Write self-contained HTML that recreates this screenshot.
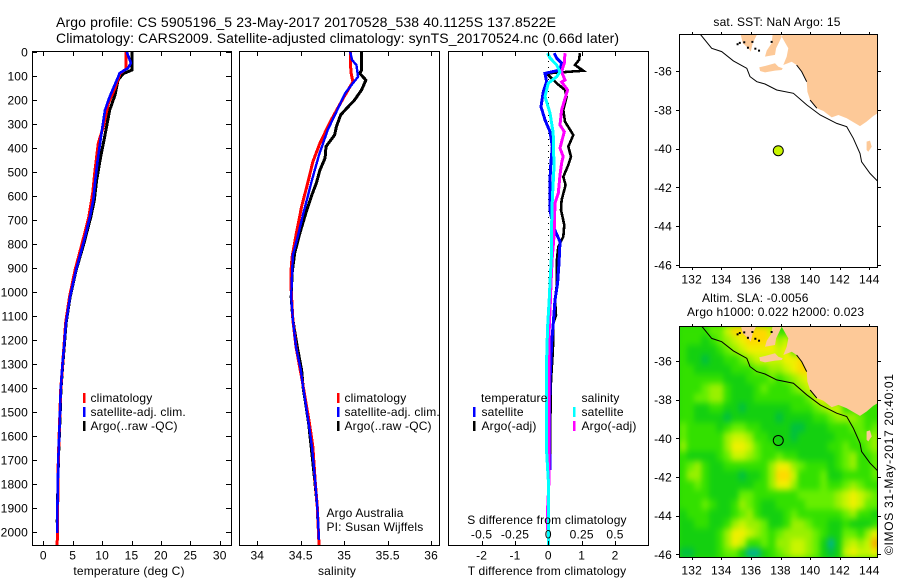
<!DOCTYPE html>
<html lang="en">
<head>
<meta charset="utf-8">
<title>Argo profile chart</title>
<style>
html,body{margin:0;padding:0;background:#fff;}
svg{display:block;}
text{font-family:"Liberation Sans",sans-serif;font-size:12px;fill:#000;letter-spacing:.17px;}
.line{fill:none;shape-rendering:crispEdges;stroke-linejoin:miter;}
.frame{fill:none;stroke:#000;stroke-width:1;shape-rendering:crispEdges;}
.tick{stroke:#000;stroke-width:1;shape-rendering:crispEdges;}
</style>
</head>
<body>
<svg id="chart" xmlns="http://www.w3.org/2000/svg" width="900" height="580" viewBox="0 0 900 580">
  <rect width="900" height="580" fill="#fff"/>
  <text x="56" y="27" style="font-size:14px;letter-spacing:0" textLength="500">Argo profile: CS 5905196_5 23-May-2017 20170528_538 40.1125S 137.8522E</text>
  <text x="56" y="43" style="font-size:14px;letter-spacing:0" textLength="563">Climatology: CARS2009. Satellite-adjusted climatology: synTS_20170524.nc (0.66d later)</text>

  <defs>
    <clipPath id="clip-map-top"><rect x="679" y="34" width="199" height="233"/></clipPath>
    <clipPath id="clip-map-bottom"><rect x="679" y="326" width="199" height="231"/></clipPath>
    <filter id="sla-smooth" filterUnits="userSpaceOnUse" x="660" y="306" width="240" height="270" color-interpolation-filters="sRGB">
      <feGaussianBlur stdDeviation="2.6 3.2"/>
    </filter>
  </defs>
  <g id="panel-temp"></g>
  <g id="panel-sal"></g>
  <g id="panel-diff"></g>
  <g id="map-top" clip-path="url(#clip-map-top)"></g>
  <g id="map-bottom" clip-path="url(#clip-map-bottom)">
    <rect x="679" y="326" width="199" height="231" fill="#28d808"/>
    <g id="sla-cells" filter="url(#sla-smooth)"></g>
  </g>
  <g id="overlay"></g>

  <text x="777" y="26" text-anchor="middle">sat. SST: NaN Argo: 15</text>
  <text x="702" y="302">Altim. SLA: -0.0056</text>
  <text x="687" y="316">Argo h1000: 0.022 h2000: 0.023</text>
  <text transform="translate(893,555) rotate(-90)" style="letter-spacing:0" textLength="181">©IMOS 31-May-2017 20:40:01</text>
</svg>

<script>
// ---------- Profile data ----------
const depthTicks = [0,100,200,300,400,500,600,700,800,900,1000,1100,1200,1300,1400,1500,1600,1700,1800,1900,2000];
const tempTicks = [0,5,10,15,20,25,30];
const salTicks = [34,34.5,35,35.5,36];
const salTickLabels = ['34','34.5','35','35.5','36'];
const diffTTicks = [-2,-1,0,1,2];
const diffTTickLabels = ['-2','-1','0','1','2'];
const diffSTicks = [-0.5,-0.25,0,0.25,0.5];
const diffSTickLabels = ['-0.5','-0.25','0','0.25','0.5'];
const lonTicks = [132,134,136,138,140,142,144];
const latTicks = [-36,-38,-40,-42,-44,-46];

const tempArgoDepth = [0,75,90,117,179,242,346,436,533,617,686,798,908,1021,1129,1229,1312,1408,1504,1700,1960];
const tempArgoValues = [15.08,15.08,13.6,12.7,12.2,11.3,10.5,9.76,9.08,8.67,8.1,6.9,5.6,4.55,3.88,3.55,3.28,3.0,2.88,2.57,2.36];
const tempSatDepth = [0,46,67,88,117,186,242,338,450,546,617,686,798,908,1021,1129,1229,1312,1408,1504,1700,1921,2005];
const tempSatValues = [14.2,14.9,14.4,13.0,12.5,11.3,10.5,9.9,9.25,8.8,8.5,7.94,6.8,5.56,4.54,3.86,3.52,3.23,2.96,2.84,2.55,2.38,2.38];
const tempClimDepth = [0,70,90,150,214,312,380,492,588,686,798,908,1021,1129,1229,1408,1700,2054];
const tempClimValues = [14.1,14.1,13.04,12.2,11.05,10.2,9.35,8.8,8.4,7.75,6.6,5.4,4.45,3.8,3.5,2.96,2.55,2.36];

const salArgoDepth = [0,75,89,117,158,200,234,262,311,346,394,442,492,546,603,658,754,838,921,1021,1117,1229,1325,1408,1450,1546,1646,1783,1896,1980];
const salArgoValues = [35.2,35.2,35.18,35.25,35.2,35.12,35.03,34.96,34.91,34.89,34.79,34.78,34.72,34.68,34.62,34.57,34.49,34.43,34.4,34.39,34.41,34.46,34.51,34.53,34.55,34.59,34.62,34.66,34.69,34.7];
const salSatDepth = [0,33,54,103,130,172,249,325,429,533,617,671,763,846,921,1021,1117,1229,1325,1367,1450,1546,1646,1783,1896,2033];
const salSatValues = [35.07,35.09,35.14,35.16,35.1,35.01,34.91,34.81,34.71,34.63,34.57,34.53,34.47,34.41,34.4,34.39,34.41,34.445,34.5,34.515,34.55,34.59,34.63,34.665,34.69,34.71];
const salClimDepth = [0,46,89,124,192,290,380,457,546,644,754,854,921,992,1117,1229,1367,1546,1646,1783,1896,2054];
const salClimValues = [35.07,35.07,35.08,35.1,34.99,34.84,34.72,34.64,34.58,34.51,34.45,34.4,34.385,34.39,34.41,34.445,34.515,34.6,34.64,34.665,34.69,34.71];

const diffArgoTDepth = [5,33,54,78,89,130,158,186,242,290,346,394,436,471,520,554,617,658,721,769,811,879,936,978,1033,1096,1129,1200,1283,1367,1546,1742];
const diffArgoTValues = [0.95,0.92,0.8,1.05,-0.05,0.25,0.5,0.55,0.45,0.5,0.75,0.6,0.68,0.6,0.45,0.52,0.4,0.38,0.48,0.45,0.3,0.25,0.25,0.25,0.2,0.23,0.15,0.15,0.12,0.08,0.06,0.05];
const diffSatTDepth = [5,25,46,75,89,124,165,228,283,332,394,478,533,658,728,790,879,963,1033,1129,1213,1283,1367,1546,1742];
const diffSatTValues = [0.18,0.25,0.4,0.35,-0.1,-0.05,-0.15,-0.22,-0.1,0.05,0.12,0.07,0.05,0.05,0.15,0.35,0.32,0.28,0.2,0.15,0.1,0.08,0.05,0.03,0.05];
const diffArgoSDepth = [5,46,82,117,125,158,242,304,332,400,436,463,512,588,629,769,853,963,1046,1158,1270,1422,1770,1921,1992];
const diffArgoSValues = [0.125,0.12,0.1,0.125,0.1,0.145,0.1,0.088,0.12,0.088,0.112,0.1,0.088,0.075,0.05,0.043,0.03,0.02,0.015,0.007,0.005,0.007,0.007,-0.007,-0.007];
const diffSatSDepth = [5,25,54,82,103,130,186,254,338,478,617,728,838,936,1033,1144,1270,1367,1671,1783,1992,2054];
const diffSatSValues = [-0.005,0.013,0.063,0.088,0.063,0,-0.025,0.013,0.037,0.043,0.03,0.025,0.025,0.015,0.007,-0.005,-0.012,-0.012,-0.012,0,0,0];

// ---------- Map data (lon, lat) ----------
const floatLon = 137.85;
const floatLat = -40.11;
const landMain = [[138.19,-34.09],[138.08,-34.23],[138.53,-34.83],[138.42,-35.26],[138.19,-35.69],[138.76,-35.52],[139.09,-35.69],[139.43,-36.03],[139.77,-36.55],[139.82,-37.07],[140.0,-37.5],[140.45,-37.92],[140.9,-38.06],[141.46,-38.39],[141.91,-38.27],[142.47,-38.44],[143.37,-38.84],[143.82,-38.61],[144.27,-38.32],[144.57,-38.18],[144.7,-34.09]];
const landEyre = [[135.3,-34.09],[135.45,-34.57],[135.83,-34.83],[135.99,-35.0],[136.12,-34.57],[136.4,-34.14],[136.4,-34.09]];
const landYorke = [[137.47,-34.09],[137.4,-34.57],[137.07,-34.95],[136.95,-35.26],[137.63,-35.17],[137.7,-34.83],[137.92,-34.49],[138.08,-34.23],[138.02,-34.09]];
const landKangaroo = [[136.57,-35.81],[136.95,-35.74],[137.63,-35.6],[137.86,-35.78],[138.15,-35.86],[138.08,-35.95],[137.63,-35.98],[136.95,-36.07],[136.62,-36.0]];
const landKing = [[143.82,-39.64],[144.05,-39.59],[144.16,-39.9],[143.93,-40.16],[143.82,-40.07]];
const shelfContour = [[132.56,-34.09],[133.35,-34.83],[134.03,-35.0],[134.82,-35.48],[135.72,-35.86],[135.94,-36.29],[136.4,-36.55],[136.95,-36.67],[137.74,-36.98],[138.87,-37.15],[139.77,-37.75],[140.68,-38.27],[141.8,-38.7],[142.47,-38.87],[142.92,-39.47],[143.37,-40.25],[143.48,-40.68],[144.05,-41.28],[144.6,-41.71]];
const coastThickA = [[139.09,-35.69],[139.43,-36.03],[139.77,-36.55]];
const coastThickB = [[140.0,-37.5],[140.45,-37.92]];
const gulfIslets = [[135.25,-34.55],[135.55,-34.52],[135.8,-34.8],[136.1,-34.5],[136.3,-34.85],[136.55,-34.95],[137.4,-34.5],[135.1,-34.62]];
const slaOriginLon = 131.16;
const slaOriginLat = -34.17;
const slaStepDeg = 0.5;
const slaLevelColors = ['#00b48c','#00c040','#14d010','#33e000','#66ee00','#99f000','#c8f500','#f0f000','#ffd800','#ffa800'];
const slaGrid = [
[3,3,3,3,4,4,6,8,8,8,8,8,6,3,3,3,3,3,3,3,3,3,3,3,3,3,3],
[3,3,3,2,3,4,5,6,7,8,8,8,7,5,6,3,3,3,3,3,3,3,3,3,3,3,3],
[3,2,2,2,2,3,4,5,6,7,7,7,7,6,7,3,3,3,3,3,3,3,3,3,3,3,3],
[3,2,2,1,2,2,3,3,4,5,6,6,6,6,7,7,8,3,3,3,3,3,3,3,3,3,3],
[3,3,2,2,2,2,2,3,3,3,4,4,5,5,6,7,8,8,3,3,3,3,3,3,3,3,3],
[3,3,3,3,3,3,2,2,2,3,3,3,4,3,4,5,6,7,3,3,3,3,3,3,3,3,3],
[3,3,3,4,5,5,3,2,2,2,3,4,3,3,3,4,5,6,7,3,3,3,3,3,3,3,3],
[3,3,4,4,5,5,3,2,2,2,3,3,3,3,3,3,3,4,6,7,3,3,3,3,3,3,3],
[3,3,2,2,3,3,2,2,1,2,2,2,2,2,2,3,3,3,4,5,6,6,3,3,3,3,3],
[3,3,2,2,2,2,1,2,2,2,2,2,2,1,2,2,2,2,3,3,4,5,5,5,4,3,3],
[4,3,3,3,3,2,3,4,4,3,3,2,2,2,2,1,1,2,2,2,3,3,3,4,4,3,4],
[4,3,3,3,3,3,5,6,6,5,3,3,2,2,2,1,2,2,2,2,2,3,3,3,4,4,5],
[5,3,3,3,3,3,5,7,7,6,4,3,3,2,2,2,2,2,2,2,3,3,4,3,3,4,5],
[3,2,2,2,2,3,4,6,6,5,4,3,3,4,3,3,2,2,2,2,2,3,4,5,3,3,4],
[3,4,5,3,2,2,3,3,3,3,3,3,5,7,7,5,4,3,3,3,2,3,4,5,3,3,4],
[3,5,5,3,2,2,2,2,1,2,2,3,5,8,8,6,3,3,3,4,2,2,3,3,3,3,4],
[3,3,4,3,2,2,2,2,2,2,3,3,5,7,7,5,3,3,3,4,3,3,4,5,4,3,3],
[3,3,3,3,2,2,2,2,4,4,3,3,3,3,3,3,4,4,4,4,4,5,6,7,6,5,4],
[3,3,3,4,3,2,2,3,5,4,3,2,2,3,3,3,3,4,4,4,4,5,6,7,6,4,4],
[2,3,3,3,2,2,2,3,4,5,3,2,2,2,3,4,3,3,3,3,3,3,4,5,3,3,2],
[2,2,3,3,2,2,3,5,6,5,5,4,2,2,3,5,5,4,3,3,2,2,3,2,2,2,3],
[2,2,2,2,2,3,5,7,7,6,5,4,3,4,5,5,5,5,4,3,2,2,4,4,3,5,7],
[2,2,2,2,2,3,5,7,6,3,3,4,3,5,5,6,6,5,4,2,0,2,5,6,5,6,9],
[1,1,2,2,2,3,4,4,2,0,0,2,3,4,5,6,6,5,4,2,1,2,6,7,6,6,7]
];

// ---------- Axis functions ----------
const TOP = 52, BOTTOM = 545;
const yDepth = d => TOP + 0.24 * d;
const xTemp = t => 43.3 + 5.88 * t;
const xSal = s => 257.3 + 86.9 * (s - 34);
const xDiffT = t => 548.3 + 33.35 * t;
const xDiffS = s => 548.3 + 133.4 * s;
const xLon = lon => 691.7 + 14.8 * (lon - 132);
const yLatTop = lat => 71 + 19.4 * (-36 - lat);
const yLatBottom = lat => 361 + 19.33 * (-36 - lat);

// ---------- Drawing helpers ----------
const NS = 'http://www.w3.org/2000/svg';
function mk(parent, tag, name, attrs) {
  const el = document.createElementNS(NS, tag);
  
  
  for (const k in attrs) el.setAttribute(k, attrs[k]);
  parent.appendChild(el);
  return el;
}
function label(parent, name, x, y, str, anchor) {
  const el = mk(parent, 'text', name, {x: x, y: y, 'text-anchor': anchor || 'start'});
  el.textContent = str;
  return el;
}
function profile(parent, name, depths, values, xFn, color, width) {
  const pts = depths.map((d, i) => xFn(values[i]).toFixed(1) + ',' + yDepth(d).toFixed(1)).join(' ');
  return mk(parent, 'polyline', name, {class: 'line', points: pts, stroke: color, 'stroke-width': width});
}
function tick(parent, name, x1, y1, x2, y2) {
  return mk(parent, 'line', name, {class: 'tick', x1: x1, y1: y1, x2: x2, y2: y2});
}
function legendBar(parent, name, x, y, color) {
  return mk(parent, 'rect', name, {x: x, y: y, width: 2.5, height: 10, fill: color, 'shape-rendering': 'crispEdges'});
}
function polyPoints(coords, yFn) {
  return coords.map(p => xLon(p[0]).toFixed(1) + ',' + yFn(p[1]).toFixed(1)).join(' ');
}

const pTemp = document.getElementById('panel-temp');
const pSal = document.getElementById('panel-sal');
const pDiff = document.getElementById('panel-diff');
const mTop = document.getElementById('map-top');
const mBot = document.getElementById('map-bottom');
const slaCells = document.getElementById('sla-cells');
const ov = document.getElementById('overlay');

// ---------- Profile series ----------
profile(pTemp, 'temperature-argo-line', tempArgoDepth, tempArgoValues, xTemp, '#000', 3);
profile(pTemp, 'temperature-climatology-line', tempClimDepth, tempClimValues, xTemp, '#f00', 3);
profile(pTemp, 'temperature-satellite-line', tempSatDepth, tempSatValues, xTemp, '#00f', 2.6);

profile(pSal, 'salinity-argo-line', salArgoDepth, salArgoValues, xSal, '#000', 3);
profile(pSal, 'salinity-climatology-line', salClimDepth, salClimValues, xSal, '#f00', 3);
profile(pSal, 'salinity-satellite-line', salSatDepth, salSatValues, xSal, '#00f', 2.4);

mk(pDiff, 'line', 'zero-difference-dotted-line', {x1: xDiffT(0), y1: TOP + 3, x2: xDiffT(0), y2: yDepth(1100), stroke: '#000', 'stroke-width': 1, 'stroke-dasharray': '1 5', 'shape-rendering': 'crispEdges'});
profile(pDiff, 'temperature-argo-difference-line', diffArgoTDepth, diffArgoTValues, xDiffT, '#000', 2.6);
profile(pDiff, 'temperature-satellite-difference-line', diffSatTDepth, diffSatTValues, xDiffT, '#00f', 3);
profile(pDiff, 'salinity-argo-difference-line', diffArgoSDepth, diffArgoSValues, xDiffS, '#f0f', 3);
profile(pDiff, 'salinity-satellite-difference-line', diffSatSDepth, diffSatSValues, xDiffS, '#0ff', 3);

// ---------- Panel frames and ticks ----------
const panels = [[32, 231, 'temperature'], [239, 439, 'salinity'], [448, 648, 'difference']];
panels.forEach(p => {
  mk(ov, 'rect', p[2] + '-panel-frame', {class: 'frame', x: p[0] + 0.5, y: TOP - 0.5, width: p[1] - p[0], height: BOTTOM - TOP + 1});
});
depthTicks.forEach(d => {
  const y = Math.round(yDepth(d)) + 0.5;
  tick(ov, 'depth-tick-left', 32, y, 37, y);
  tick(ov, 'depth-tick-right', 226, y, 231, y);
  label(ov, 'depth-tick-label', 28, yDepth(d) + 4.5, String(d), 'end');
});
function xAxis(values, xFn, labels, name, labelY) {
  values.forEach((v, i) => {
    const x = Math.round(xFn(v)) + 0.5;
    tick(ov, name + '-tick-top', x, TOP, x, TOP + 4);
    tick(ov, name + '-tick-bottom', x, BOTTOM - 4, x, BOTTOM);
    label(ov, name + '-tick-label', xFn(v), labelY, labels[i], 'middle');
  });
}
xAxis(tempTicks, xTemp, tempTicks.map(String), 'temperature', 559.5);
xAxis(salTicks, xSal, salTickLabels, 'salinity', 559.5);
xAxis(diffTTicks, xDiffT, diffTTickLabels, 'temperature-difference', 559.5);
diffSTicks.forEach((v, i) => {
  label(ov, 'salinity-difference-tick-label', xDiffS(v), 538.5, diffSTickLabels[i], 'middle');
});
label(ov, 'temperature-axis-title', 129, 575, 'temperature (deg C)', 'middle');
label(ov, 'salinity-axis-title', 337, 575, 'salinity', 'middle');
label(ov, 'temperature-difference-axis-title', 547, 575, 'T difference from climatology', 'middle');
label(ov, 'salinity-difference-axis-title', 547, 524, 'S difference from climatology', 'middle');

// ---------- Legends ----------
const legendNames = ['climatology', 'satellite-adj. clim.', 'Argo(..raw -QC)'];
const legendColors = ['#f00', '#00f', '#000'];
legendNames.forEach((t, i) => {
  legendBar(ov, 'temperature-legend-swatch', 83, 393 + 14 * i, legendColors[i]);
  label(ov, 'temperature-legend-entry', 90.5, 402 + 14 * i, t);
  legendBar(ov, 'salinity-legend-swatch', 337, 393 + 14 * i, legendColors[i]);
  label(ov, 'salinity-legend-entry', 344.5, 402 + 14 * i, t);
});
label(ov, 'float-program-label', 326.5, 517, 'Argo Australia');
label(ov, 'float-pi-label', 326.5, 531, 'PI: Susan Wijffels');
label(ov, 'difference-legend-temperature-header', 481, 402, 'temperature');
label(ov, 'difference-legend-salinity-header', 581.5, 402, 'salinity');
legendBar(ov, 'difference-legend-swatch-t-satellite', 473, 407, '#00f');
label(ov, 'difference-legend-entry', 481.5, 416, 'satellite');
legendBar(ov, 'difference-legend-swatch-t-argo', 473, 421, '#000');
label(ov, 'difference-legend-entry', 481.5, 430, 'Argo(-adj)');
legendBar(ov, 'difference-legend-swatch-s-satellite', 573, 407, '#0ff');
label(ov, 'difference-legend-entry', 581.5, 416, 'satellite');
legendBar(ov, 'difference-legend-swatch-s-argo', 573, 421, '#f0f');
label(ov, 'difference-legend-entry', 581.5, 430, 'Argo(-adj)');

// ---------- SLA heatmap cells ----------
slaGrid.forEach((row, r) => {
  row.forEach((level, c) => {
    const lon = slaOriginLon + c * slaStepDeg;
    const lat = slaOriginLat - r * slaStepDeg;
    const x = xLon(lon), y = yLatBottom(lat);
    mk(slaCells, 'rect', 'sla-cell', {
      x: x.toFixed(1), y: y.toFixed(1),
      width: (xLon(lon + slaStepDeg) - x + 0.3).toFixed(1),
      height: (yLatBottom(lat - slaStepDeg) - y + 0.3).toFixed(1),
      fill: slaLevelColors[level], 'shape-rendering': 'crispEdges'
    });
  });
});

// ---------- Map geography ----------
function drawMap(group, yFn, mapName) {
  [[landMain,'mainland'],[landEyre,'eyre-peninsula'],[landYorke,'yorke-peninsula'],[landKangaroo,'kangaroo-island'],[landKing,'king-island']].forEach(l => {
    mk(group, 'polygon', mapName + '-land-' + l[1], {points: polyPoints(l[0], yFn), fill: '#fdc998', stroke: 'none'});
  });
  mk(group, 'polyline', mapName + '-shelf-contour', {points: polyPoints(shelfContour, yFn), fill: 'none', stroke: '#000', 'stroke-width': 1});
  [coastThickA, coastThickB].forEach(seg => {
    mk(group, 'polyline', mapName + '-coast-segment', {points: polyPoints(seg, yFn), fill: 'none', stroke: '#000', 'stroke-width': 1});
  });
  gulfIslets.forEach(p => {
    mk(group, 'rect', mapName + '-islet', {x: xLon(p[0]) - 1, y: yFn(p[1]) - 1, width: 2, height: 2, fill: '#000'});
  });
}
drawMap(mTop, yLatTop, 'sst-map');
drawMap(mBot, yLatBottom, 'sla-map');
mk(mTop, 'circle', 'float-position-marker-sst', {cx: xLon(floatLon), cy: yLatTop(floatLat), r: 5, fill: '#c8f500', stroke: '#000', 'stroke-width': 1});
mk(mBot, 'circle', 'float-position-marker-sla', {cx: xLon(floatLon), cy: yLatBottom(floatLat), r: 5, fill: 'none', stroke: '#000', 'stroke-width': 1});

// ---------- Map frames and ticks ----------
function mapAxes(name, top, bottom, yFn, lonLabelY) {
  mk(ov, 'rect', name + '-frame', {class: 'frame', x: 679.5, y: top + 0.5, width: 198, height: bottom - top});
  lonTicks.forEach(l => {
    const x = Math.round(xLon(l)) + 0.5;
    tick(ov, name + '-lon-tick-top', x, top - 2, x, top);
    tick(ov, name + '-lon-tick-bottom', x, bottom, x, bottom + 3);
    label(ov, name + '-lon-tick-label', xLon(l), lonLabelY, String(l), 'middle');
  });
  latTicks.forEach(l => {
    const y = Math.round(yFn(l)) + 0.5;
    tick(ov, name + '-lat-tick-left', 676, y, 679, y);
    tick(ov, name + '-lat-tick-right', 878, y, 881, y);
    label(ov, name + '-lat-tick-label', 672, yFn(l) + 4.5, String(l), 'end');
  });
}
mapAxes('sst-map', 34, 267, yLatTop, 283.5);
mapAxes('sla-map', 326, 557, yLatBottom, 574.5);
</script>
</body>
</html>
